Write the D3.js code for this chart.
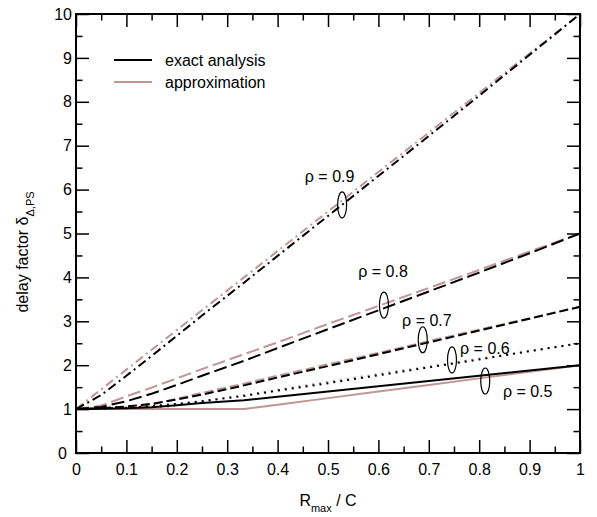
<!DOCTYPE html>
<html>
<head>
<meta charset="utf-8">
<script src="https://cdn.jsdelivr.net/npm/d3@7"></script>
<style>
  body { margin: 0; background: #fff; }
  text { font-family: "Liberation Sans", Arial, sans-serif; }
</style>
</head>
<body>
<svg id="chart" width="597" height="517"></svg>
<script>
// shared x grid (R_max / C)
let rmax = [0, 0.05, 0.1, 0.15, 0.2, 0.25, 0.3333, 0.4, 0.5, 0.6, 0.7, 0.8, 0.9, 1]

// delay factor values
let exact05 = [1, 1.01, 1.02, 1.04, 1.09, 1.14, 1.2, 1.28, 1.4, 1.52, 1.64, 1.76, 1.88, 2]
let approx05 = [1, 1, 1, 1, 1, 1, 1, 1.1, 1.25, 1.4, 1.55, 1.7, 1.85, 2]
let exact06 = [1, 1.01, 1.03, 1.07, 1.12, 1.18, 1.3, 1.42, 1.59, 1.77, 1.95, 2.13, 2.32, 2.5]
let approx06 = [1, 1, 1, 1, 1.09, 1.18, 1.32, 1.44, 1.62, 1.8, 1.97, 2.15, 2.32, 2.5]
let exact07 = [1, 1.02, 1.06, 1.12, 1.22, 1.33, 1.54, 1.72, 1.98, 2.25, 2.52, 2.79, 3.06, 3.33]
let approx07 = [1, 1, 1, 1.1, 1.24, 1.37, 1.58, 1.76, 2.02, 2.28, 2.55, 2.81, 3.07, 3.33]
let exact08 = [1, 1.05, 1.18, 1.35, 1.55, 1.76, 2.1, 2.39, 2.82, 3.25, 3.68, 4.11, 4.55, 5]
let approx08 = [1, 1.08, 1.29, 1.49, 1.7, 1.91, 2.25, 2.52, 2.94, 3.35, 3.76, 4.17, 4.59, 5]
let exact09 = [1, 1.32, 1.76, 2.21, 2.67, 3.13, 3.88, 4.49, 5.4, 6.31, 7.22, 8.14, 9.07, 10]
let approx09 = [1, 1.45, 1.9, 2.35, 2.8, 3.25, 4, 4.6, 5.5, 6.4, 7.3, 8.2, 9.1, 10]

let rhoLabels = ['ρ = 0.5', 'ρ = 0.6', 'ρ = 0.7', 'ρ = 0.8', 'ρ = 0.9']
// label anchor and ellipse marker positions (data coords)
let labelX = [0.847, 0.762, 0.647, 0.56, 0.454]
let labelY = [1.28, 2.26, 2.9, 4.01, 6.18]
let markX = [0.812, 0.746, 0.688, 0.611, 0.528]
let markY = [1.64, 2.12, 2.58, 3.37, 5.65]

let xTicks = d3.range(0, 11).map(d => d / 10)
let yTicks = d3.range(0, 11)

let margin = { top: 14, left: 76, right: 17, bottom: 64 }
let width = 597 - margin.left - margin.right
let height = 517 - margin.top - margin.bottom

let pink = '#bf9595'

let svg = d3.select('#chart')
  .append('g')
  .attr('transform', `translate(${margin.left},${margin.top})`)

let xPositionScale = d3.scaleLinear().domain([0, 1]).range([0, width])
let yPositionScale = d3.scaleLinear().domain([0, 10]).range([height, 0])

let line = d3.line()
  .x(d => xPositionScale(d[0]))
  .y(d => yPositionScale(d[1]))

let series = [
  { values: approx05, color: pink, dash: null },
  { values: approx06, color: pink, dash: '2 5' },
  { values: approx07, color: pink, dash: '9 4' },
  { values: approx08, color: pink, dash: '13 5' },
  { values: approx09, color: pink, dash: '9 4 2 4' },
  { values: exact05, color: '#000', dash: null },
  { values: exact06, color: '#000', dash: '2 5' },
  { values: exact07, color: '#000', dash: '9 4' },
  { values: exact08, color: '#000', dash: '13 5' },
  { values: exact09, color: '#000', dash: '9 4 2 4' }
]

series.forEach(s => {
  svg.append('path')
    .datum(rmax.map((x, i) => [x, s.values[i]]))
    .attr('d', line)
    .attr('fill', 'none')
    .attr('stroke', s.color)
    .attr('stroke-width', 2)
    .attr('stroke-dasharray', s.dash)
})

// frame with ticks on all sides
let xMinor = d3.range(0, 21).map(d => d / 20)
let yMinor = d3.range(0, 21).map(d => d / 2)

function tickLen(v, step) {
  return Math.abs(Math.round(v / step) * step - v) < 1e-6 ? 13 : 6.5
}

let xAxis = d3.axisBottom(xPositionScale)
  .tickValues(xMinor)
  .tickSizeOuter(0)
  .tickFormat(d => xTicks.some(t => Math.abs(t - d) < 1e-6) ? d3.format('~g')(d) : '')

let xg = svg.append('g')
  .attr('transform', `translate(0,${height})`)
  .call(xAxis)
xg.selectAll('.tick line').attr('y2', d => -tickLen(d, 0.1)).attr('stroke-width', 1.5)
xg.selectAll('.tick text').attr('y', 11).attr('dy', '0.71em').attr('font-size', 16).attr('fill', '#000')
xg.select('.domain').remove()

let topG = svg.append('g').call(d3.axisTop(xPositionScale).tickValues(xMinor).tickFormat(''))
topG.selectAll('.tick line').attr('y2', d => tickLen(d, 0.1)).attr('stroke-width', 1.5)
topG.select('.domain').remove()

let yAxis = d3.axisLeft(yPositionScale)
  .tickValues(yMinor)
  .tickFormat(d => Number.isInteger(d) ? d : '')

let yg = svg.append('g').call(yAxis)
yg.selectAll('.tick line').attr('x2', d => tickLen(d, 1)).attr('stroke-width', 1.5)
yg.selectAll('.tick text').attr('x', d => d === 0 ? -9 : -4).attr('font-size', 16).attr('fill', '#000')
yg.select('.domain').remove()

let rightG = svg.append('g')
  .attr('transform', `translate(${width},0)`)
  .call(d3.axisRight(yPositionScale).tickValues(yMinor).tickFormat(''))
rightG.selectAll('.tick line').attr('x2', d => -tickLen(d, 1)).attr('stroke-width', 1.5)
rightG.select('.domain').remove()

svg.append('rect')
  .attr('width', width)
  .attr('height', height)
  .attr('fill', 'none')
  .attr('stroke', '#000')
  .attr('stroke-width', 2)

// rho labels and ellipse markers
rhoLabels.forEach((label, i) => {
  svg.append('ellipse')
    .attr('cx', xPositionScale(markX[i]))
    .attr('cy', yPositionScale(markY[i]))
    .attr('rx', 4.5)
    .attr('ry', 13)
    .attr('fill', 'none')
    .attr('stroke', '#000')
    .attr('stroke-width', 1.2)

  svg.append('text')
    .attr('x', xPositionScale(labelX[i]))
    .attr('y', yPositionScale(labelY[i]))
    .attr('font-size', 16)
    .text(label)
})

// legend
let legendItems = [
  { label: 'exact analysis', color: '#000' },
  { label: 'approximation', color: pink }
]
legendItems.forEach((d, i) => {
  let y = 46 + i * 22
  svg.append('line')
    .attr('x1', 38).attr('x2', 76)
    .attr('y1', y).attr('y2', y)
    .attr('stroke', d.color)
    .attr('stroke-width', 2)
  svg.append('text')
    .attr('x', 89)
    .attr('y', y)
    .attr('dy', '0.35em')
    .attr('font-size', 16)
    .text(d.label)
})

// axis titles
let xTitle = svg.append('text')
  .attr('x', width / 2)
  .attr('y', height + 53)
  .attr('text-anchor', 'middle')
  .attr('font-size', 16)
xTitle.append('tspan').text('R')
xTitle.append('tspan').attr('font-size', 11).attr('dy', 6).text('max')
xTitle.append('tspan').attr('dy', -6).text(' / C')

let yTitle = svg.append('text')
  .attr('transform', `translate(-48,${252 - margin.top}) rotate(-90)`)
  .attr('text-anchor', 'middle')
  .attr('font-size', 16)
yTitle.append('tspan').text('delay factor δ')
yTitle.append('tspan').attr('font-size', 11).attr('dy', 6).text('Δ,PS')
</script>
</body>
</html>
